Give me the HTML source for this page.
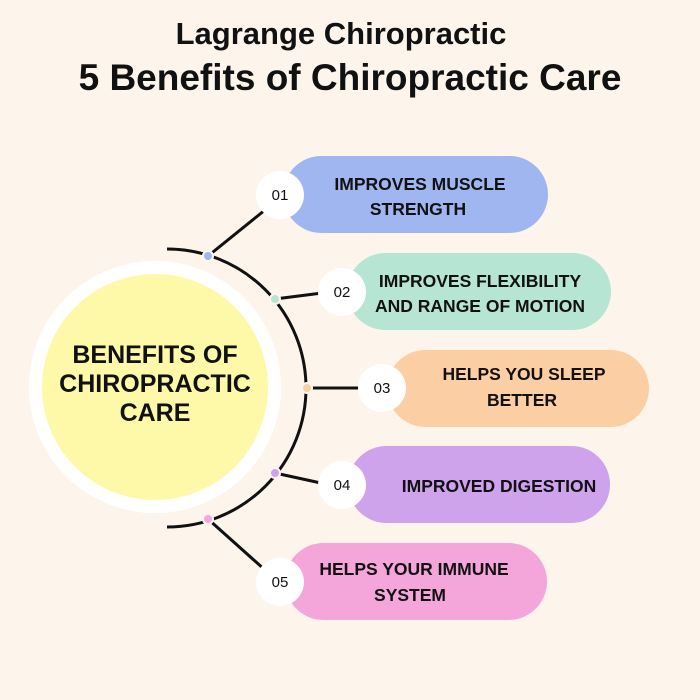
<!DOCTYPE html>
<html><head><style>
body{margin:0;background:#fdf5ec;}
svg{display:block}
text{font-family:"Liberation Sans",sans-serif;font-weight:bold;fill:#111;}
</style></head><body>
<svg width="700" height="700" viewBox="0 0 700 700">
<rect width="700" height="700" fill="#fdf5ec"/>
<text x="341" y="44" font-size="31" text-anchor="middle">Lagrange Chiropractic</text>
<text x="350" y="90" font-size="37" text-anchor="middle">5 Benefits of Chiropractic Care</text>

<circle cx="155" cy="387" r="126" fill="#ffffff"/>
<circle cx="155" cy="387" r="113" fill="#fdf9a8"/>
<text x="155" y="363" font-size="25" text-anchor="middle">BENEFITS OF</text>
<text x="155" y="392" font-size="25" text-anchor="middle">CHIROPRACTIC</text>
<text x="155" y="421" font-size="25" text-anchor="middle">CARE</text>

<path d="M167 249 A139 139 0 0 1 167 527" fill="none" stroke="#111" stroke-width="3"/>
<g stroke="#111" stroke-width="3">
<line x1="208" y1="256" x2="265" y2="210"/>
<line x1="275" y1="299" x2="330" y2="292"/>
<line x1="307" y1="388" x2="370" y2="388"/>
<line x1="275" y1="473" x2="330" y2="485"/>
<line x1="208" y1="519" x2="265" y2="570"/>
</g>

<rect x="283" y="156" width="265" height="77" rx="38.5" fill="#9fb6f0"/>
<rect x="347" y="253" width="264" height="77" rx="38.5" fill="#b7e5d3"/>
<rect x="387" y="350" width="262" height="77" rx="38.5" fill="#fbcfa3"/>
<rect x="348" y="446" width="262" height="77" rx="38.5" fill="#cfa2ec"/>
<rect x="285" y="543" width="262" height="77" rx="38.5" fill="#f4a5da"/>

<g fill="#fff">
<circle cx="280" cy="195" r="24"/>
<circle cx="342" cy="292" r="24"/>
<circle cx="382" cy="388" r="24"/>
<circle cx="342" cy="485" r="24"/>
<circle cx="280" cy="582" r="24"/>
</g>
<g stroke="#fdf5ec" stroke-width="2">
<circle cx="208" cy="256" r="5" fill="#9fb6f0"/>
<circle cx="275" cy="299" r="5" fill="#b7e5d3"/>
<circle cx="307" cy="388" r="5" fill="#fbcfa3"/>
<circle cx="275" cy="473" r="5" fill="#cfa2ec"/>
<circle cx="208" cy="519" r="5" fill="#f4a5da"/>
</g>

<g font-size="15" text-anchor="middle">
<text x="280" y="200" style="font-weight:normal">01</text>
<text x="342" y="297" style="font-weight:normal">02</text>
<text x="382" y="393" style="font-weight:normal">03</text>
<text x="342" y="490" style="font-weight:normal">04</text>
<text x="280" y="587" style="font-weight:normal">05</text>
</g>

<g font-size="17.5" text-anchor="middle">
<text x="420" y="190">IMPROVES MUSCLE</text>
<text x="418" y="215">STRENGTH</text>
<text x="480" y="287">IMPROVES FLEXIBILITY</text>
<text x="480" y="312">AND RANGE OF MOTION</text>
<text x="524" y="380">HELPS YOU SLEEP</text>
<text x="522" y="406">BETTER</text>
<text x="499" y="492">IMPROVED DIGESTION</text>
<text x="414" y="575">HELPS YOUR IMMUNE</text>
<text x="410" y="601">SYSTEM</text>
</g>
</svg>
</body></html>
